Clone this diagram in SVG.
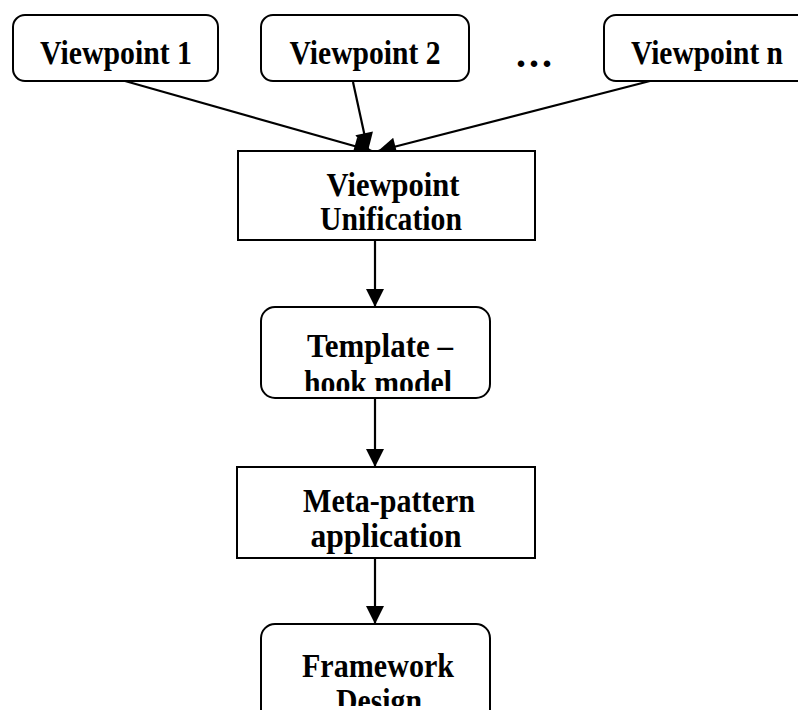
<svg xmlns="http://www.w3.org/2000/svg" width="798" height="710" viewBox="0 0 798 710">
<defs>
<style>
.box{fill:#fff;stroke:#000;stroke-width:2}
.t{font-family:"Liberation Serif","Times New Roman",serif;font-weight:bold;font-size:33px;text-anchor:middle;fill:#000}
.d{font-family:"Liberation Serif","Times New Roman",serif;font-weight:bold;font-size:40px;text-anchor:middle;fill:#000}
.c{stroke:#000;stroke-width:2.2;fill:none}
</style>
<marker id="ahb" viewBox="0 0 10 10" refX="10" refY="5" markerWidth="20" markerHeight="18" markerUnits="userSpaceOnUse" orient="auto">
<path d="M0,0 L10,5 L0,10 z" fill="#000"/>
</marker>
<clipPath id="cl1"><rect x="261" y="307" width="229" height="84"/></clipPath>
<clipPath id="cl2"><rect x="261" y="624" width="229" height="82"/></clipPath>
</defs>
<rect width="798" height="710" fill="#fff"/>
<g id="connectors">
<line class="c" x1="125" y1="81" x2="372" y2="151" marker-end="url(#ahb)"/>
<line class="c" x1="353" y1="82" x2="368" y2="151" marker-end="url(#ahb)"/>
<line class="c" x1="650" y1="81" x2="378" y2="151" marker-end="url(#ahb)"/>
<line class="c" x1="375" y1="241" x2="375" y2="307" marker-end="url(#ahb)"/>
<line class="c" x1="375" y1="398" x2="375" y2="467" marker-end="url(#ahb)"/>
<line class="c" x1="375" y1="558" x2="375" y2="624" marker-end="url(#ahb)"/>
</g>
<g id="vp1"><rect class="box" x="13" y="15" width="205" height="66" rx="12"/><text class="t" x="116" y="64" textLength="152" lengthAdjust="spacingAndGlyphs">Viewpoint 1</text></g>
<g id="vp2"><rect class="box" x="261" y="15" width="208" height="66" rx="12"/><text class="t" x="365" y="64" textLength="151" lengthAdjust="spacingAndGlyphs">Viewpoint 2</text></g>
<g id="dots"><text class="d" x="534" y="67" textLength="36" lengthAdjust="spacing">...</text></g>
<g id="vpn"><rect class="box" x="604" y="15" width="210" height="66" rx="12"/><text class="t" x="707" y="64" textLength="152" lengthAdjust="spacingAndGlyphs">Viewpoint n</text></g>
<g id="unif"><rect class="box" x="238" y="151" width="297" height="89"/><text class="t" x="393" y="196" textLength="133" lengthAdjust="spacingAndGlyphs">Viewpoint</text><text class="t" x="391" y="230" textLength="142" lengthAdjust="spacingAndGlyphs">Unification</text></g>
<g id="tmpl"><rect class="box" x="261" y="307" width="229" height="91" rx="14"/><g clip-path="url(#cl1)"><text class="t" x="380" y="357" textLength="146" lengthAdjust="spacingAndGlyphs">Template –</text><text class="t" x="378" y="394" textLength="148" lengthAdjust="spacingAndGlyphs">hook model</text></g></g>
<g id="meta"><rect class="box" x="237" y="467" width="298" height="91"/><text class="t" x="389" y="512" textLength="172" lengthAdjust="spacingAndGlyphs">Meta-pattern</text><text class="t" x="386" y="547" textLength="151" lengthAdjust="spacingAndGlyphs">application</text></g>
<g id="fw"><rect class="box" x="261" y="624" width="229" height="100" rx="14"/><g clip-path="url(#cl2)"><text class="t" x="378" y="677" textLength="152" lengthAdjust="spacingAndGlyphs">Framework</text><text class="t" x="379" y="712" textLength="86" lengthAdjust="spacingAndGlyphs">Design</text></g></g>
</svg>
